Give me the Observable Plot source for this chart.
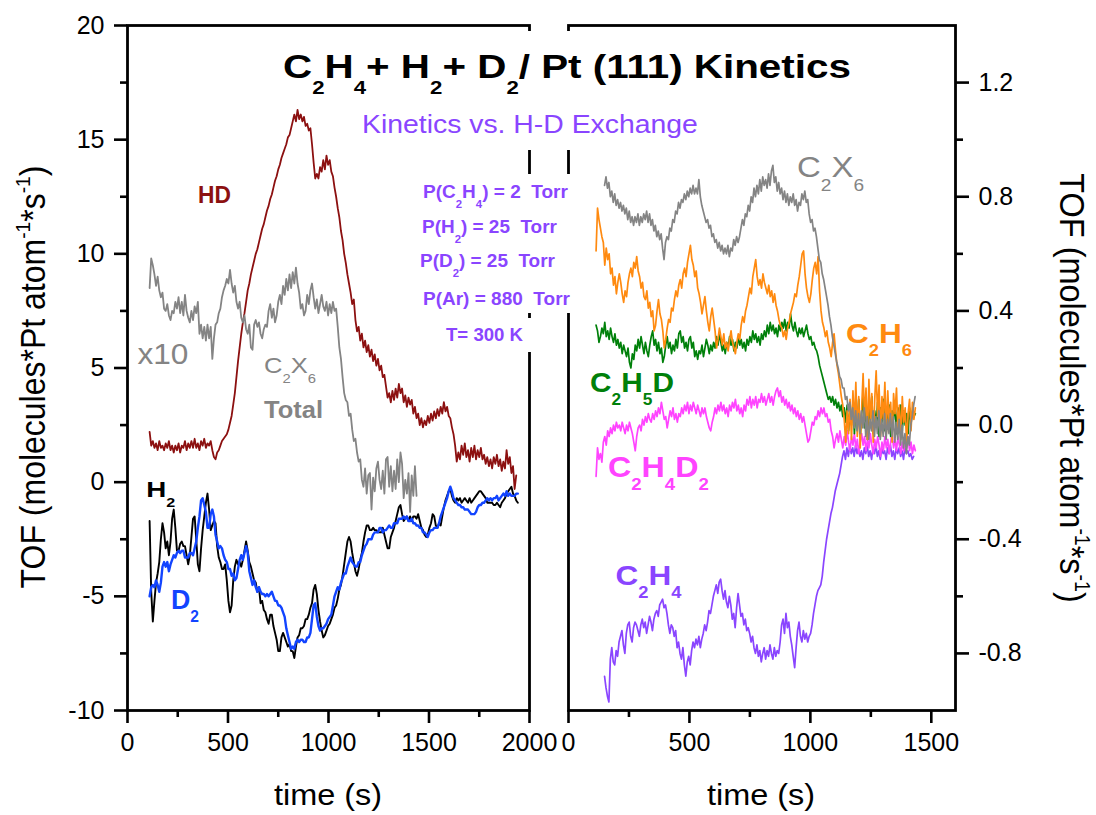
<!DOCTYPE html>
<html>
<head>
<meta charset="utf-8">
<script src="https://cdn.jsdelivr.net/npm/d3@7"></script>
<script src="https://cdn.jsdelivr.net/npm/@observablehq/plot@0.6"></script>
<style>
  body { margin: 0; background: #fff; }
  #chart { position: relative; width: 1096px; height: 815px; overflow: hidden; background: #fff; }
  #chart svg { position: absolute; left: 0; top: 0; }
</style>
</head>
<body>
<div id="chart"></div>
<script>
const W = 1096, H = 815;
const FONT = "'Liberation Sans', Arial, Helvetica, sans-serif";

// Sampling of the recorded traces (s)
const leftStep = 8;
const rightStep = 6;

// ---- Left panel: HD, C2X6 total (x10), H2, D2 ----
const hdStart = 110;
const hdTof = [
  2.2,1.6,1.8,1.5,1.7,1.4,1.8,1.5,1.6,1.4, 1.7,1.5,1.8,1.4,1.6,1.3,1.6,1.4,1.7,1.3,
  1.6,1.5,1.8,1.4,1.7,1.5,1.8,1.5,1.9,1.5, 1.7,1.4,1.8,1.6,1.9,1.5,1.7,1.6,1.8,1.4,
  1.1,1.0,1.3,1.4,1.6,1.8,1.9,2.0,2.1,2.3, 2.6,2.9,3.4,3.9,4.6,5.3,5.9,6.5,7.0,7.4,
  7.9,8.4,8.7,9.1,9.4,9.7,10.0,10.2,10.5,10.8, 11.1,11.3,11.6,11.9,12.1,12.4,12.6,12.9,13.2,13.4,
  13.7,13.9,14.2,14.4,14.6,14.8,15.1,15.2,15.5,15.8, 16.1,15.8,16.3,15.9,16.1,15.8,16.0,15.6,15.7,15.4,
  15.5,14.8,14.0,13.3,13.5,13.3,13.8,13.6,14.1,13.7, 14.3,13.9,14.1,13.6,13.4,12.9,12.5,12.0,11.6,11.0,
  10.6,10.0,9.6,9.1,8.7,8.3,7.8,8.0,7.1,6.6, 6.8,6.2,6.5,5.9,6.2,5.7,6.0,5.5,5.8,5.3,
  5.6,5.1,5.4,4.9,5.1,4.6,4.7,4.2,3.7,3.9, 3.5,4.0,3.6,4.1,3.7,4.3,3.9,4.1,3.5,3.8,
  3.3,3.7,3.4,3.6,3.0,3.3,2.8,3.0,2.5,2.8, 2.4,2.7,2.5,2.9,2.6,3.0,2.7,3.1,2.8,3.2,
  2.9,3.3,3.0,3.5,3.1,3.3,2.9,2.8,2.4,2.1, 1.6,0.9,1.3,1.0,1.6,1.2,1.7,1.1,1.4,0.9,
  1.5,1.1,1.6,1.0,1.4,1.1,1.5,1.0,1.2,0.8, 1.1,0.7,1.0,0.6,1.1,0.8,1.2,0.7,1.0,0.5,
  0.9,0.6,1.4,0.8,1.1,0.4,0.7,-0.3,0.3
];

const c2x6TotalStart = 110;
const c2x6TotalTof = [
  8.5,9.8,9.5,9.1,8.6,9.0,8.4,8.1,8.3,7.6, 7.5,7.8,7.3,7.1,7.5,7.4,7.9,7.6,8.1,7.4,
  7.9,7.3,8.2,7.5,7.2,7.0,7.5,7.1,7.7,7.4, 7.9,6.5,6.9,6.3,6.8,6.2,6.9,6.3,6.8,5.4,
  6.3,6.9,7.0,7.4,7.6,8.1,8.4,8.6,8.9,8.7, 9.3,8.7,8.3,8.6,7.9,7.6,7.9,7.2,7.0,7.3,
  6.7,6.5,6.9,5.9,5.8,6.9,7.1,6.8,7.0,6.5, 6.3,6.7,6.9,6.8,7.5,7.8,7.2,7.6,7.0,7.3,
  7.9,8.2,7.8,8.6,8.2,8.9,8.4,9.1,8.5,9.2, 8.7,9.4,8.7,8.3,7.6,7.8,7.3,7.5,8.2,7.8,
  8.4,8.7,8.1,7.6,8.0,7.4,7.8,8.2,7.7,7.5, 7.9,7.3,7.8,7.4,7.9,7.5,7.6,6.8,5.9,5.4,
  4.6,3.9,3.6,3.5,2.9,3.0,2.3,1.8,1.9,1.3, 0.9,1.0,0.1,-0.2,0.6,-0.5,0.3,0.4,-1.2,0.2,
  -0.4,0.6,0.9,0.1,-0.3,0.5,-0.5,1.0,1.1,-0.2, 0.7,-0.4,0.5,-0.3,1.0,0.0,1.3,0.8,-0.7,0.1,
  -0.5,0.4,-1.3,0.3,-0.6,0.7,-0.6
];

const h2Start = 110;
const h2Tof = [
  -1.7,-4.8,-6.1,-5.2,-4.4,-4.0,-3.5,-2.5,-1.8,-2.2, -2.9,-2.6,-3.2,-2.6,-1.6,-1.2,-2.0,-3.0,-3.0,-2.7,
  -2.6,-2.8,-2.8,-3.2,-3.6,-3.2,-2.4,-1.6,-1.5,-2.5, -3.6,-3.9,-2.9,-2.1,-1.5,-0.9,-0.5,-1.2,-2.1,-1.9,
  -1.7,-1.8,-2.8,-3.3,-3.5,-3.8,-3.8,-3.6,-4.3,-5.2, -5.7,-5.4,-4.3,-3.7,-3.4,-3.6,-3.5,-3.7,-3.4,-3.0,
  -2.6,-3.0,-3.5,-3.7,-4.0,-4.3,-4.4,-4.8,-4.6,-5.3, -5.2,-5.6,-5.7,-6.0,-6.2,-5.8,-5.8,-6.3,-6.6,-6.9,
  -7.4,-7.4,-6.8,-6.6,-6.8,-7.0,-7.2,-7.1,-7.4,-7.4, -7.7,-7.2,-6.8,-6.7,-6.4,-6.4,-6.3,-6.0,-6.0,-5.8,
  -5.5,-5.3,-4.7,-4.5,-4.9,-5.6,-6.1,-6.5,-6.8,-6.7, -6.5,-6.3,-6.2,-6.0,-5.8,-5.5,-5.4,-5.1,-4.7,-4.5,
  -4.1,-3.6,-3.1,-2.6,-2.4,-2.6,-3.1,-3.5,-3.9,-4.1, -3.8,-3.4,-3.1,-2.6,-2.2,-1.9,-1.9,-2.1,-2.1,-2.0,
  -2.1,-2.1,-2.2,-2.2,-2.2,-2.0,-2.3,-2.6,-2.9,-2.9, -2.4,-2.2,-2.0,-1.7,-1.4,-1.1,-1.0,-1.4,-1.7,-1.6,
  -1.5,-1.7,-1.5,-1.7,-1.5,-1.5,-1.6,-1.4,-1.7,-2.0, -2.1,-2.3,-2.4,-2.3,-2.0,-1.8,-1.4,-1.5,-1.9,-2.0,
  -1.8,-1.9,-1.5,-1.1,-0.8,-0.6,-0.4,-0.3,-0.6,-0.8, -0.9,-0.7,-0.8,-0.7,-0.9,-0.8,-0.7,-0.8,-0.9,-0.7,
  -0.9,-0.8,-0.7,-0.6,-0.5,-0.4,-0.4,-0.5,-0.6,-0.7, -0.9,-0.9,-0.9,-0.9,-1.0,-1.0,-0.9,-1.0,-1.1,-0.9,
  -0.8,-0.7,-0.5,-0.4,-0.3,-0.2,-0.5,-0.6,-0.8,-0.9
];

const d2Start = 110;
const d2Tof = [
  -5.0,-4.6,-4.5,-4.6,-4.3,-4.5,-4.8,-4.4,-3.7,-3.5, -3.7,-3.5,-3.9,-3.6,-3.4,-3.2,-3.3,-3.1,-3.0,-3.1,
  -3.0,-3.0,-3.3,-3.3,-3.3,-3.1,-3.1,-3.2,-2.9,-2.6, -2.0,-1.5,-0.8,-0.7,-1.0,-1.3,-2.0,-2.0,-1.4,-1.2,
  -1.5,-2.3,-2.6,-2.9,-2.8,-2.9,-3.2,-3.4,-3.5,-3.8, -3.8,-4.1,-4.0,-4.3,-4.2,-3.8,-3.4,-3.2,-3.4,-3.1,
  -2.8,-3.1,-3.9,-4.2,-4.5,-4.3,-4.6,-4.8,-4.6,-4.8, -4.9,-4.9,-5.0,-4.9,-5.0,-4.9,-4.8,-5.0,-5.2,-5.2,
  -5.4,-5.4,-5.5,-5.7,-5.9,-6.4,-6.7,-7.0,-7.3,-7.2, -7.3,-7.0,-6.9,-7.0,-6.9,-6.9,-7.0,-7.0,-6.8,-6.8,
  -6.6,-6.0,-5.4,-5.3,-5.9,-6.3,-6.5,-6.4,-6.4,-6.3, -6.2,-6.0,-5.9,-5.8,-5.4,-5.0,-4.8,-4.6,-4.7,-4.4,
  -4.2,-4.0,-4.0,-3.7,-3.5,-3.3,-3.5,-3.6,-3.7,-3.7, -3.5,-3.5,-3.2,-3.0,-2.8,-2.7,-2.5,-2.5,-2.5,-2.3,
  -2.2,-2.2,-2.2,-2.0,-2.0,-2.2,-2.1,-2.1,-2.0,-1.9, -2.0,-2.0,-1.8,-1.8,-1.8,-1.6,-1.6,-1.6,-1.5,-1.6,
  -1.5,-1.7,-1.7,-1.6,-1.8,-1.8,-1.9,-1.9,-2.0,-2.0, -2.2,-2.2,-2.3,-2.4,-2.2,-2.1,-2.1,-2.0,-2.0,-2.0,
  -1.8,-1.5,-1.3,-1.1,-0.9,-0.7,-0.4,-0.2,-0.4,-0.7, -0.8,-0.9,-1.0,-1.0,-1.1,-1.1,-1.2,-1.2,-1.2,-1.3,
  -1.4,-1.4,-1.4,-1.3,-1.1,-1.0,-1.0,-0.9,-0.9,-0.8, -0.7,-0.8,-0.7,-0.8,-0.7,-0.7,-0.6,-0.8,-0.7,-0.6,
  -0.5,-0.6,-0.4,-0.6,-0.5,-0.6,-0.6,-0.6,-0.5,-0.5
];

// ---- Right panel: C2X6, C2H6, C2H5D, C2H4D2, C2H4 ----
const c2x6Start = 149;
const c2x6Tof = [
  0.84,0.87,0.83,0.85,0.80,0.82,0.78,0.81,0.77,0.79, 0.76,0.78,0.75,0.77,0.74,0.76,0.72,0.75,0.71,0.73,
  0.70,0.73,0.71,0.74,0.70,0.73,0.71,0.74,0.72,0.75, 0.71,0.74,0.70,0.72,0.68,0.70,0.66,0.68,0.65,0.67,
  0.62,0.58,0.64,0.66,0.65,0.69,0.68,0.72,0.71,0.75, 0.74,0.78,0.76,0.79,0.78,0.81,0.79,0.82,0.80,0.83,
  0.81,0.84,0.81,0.83,0.81,0.86,0.80,0.77,0.75,0.73, 0.71,0.72,0.69,0.70,0.66,0.67,0.64,0.65,0.62,0.64,
  0.61,0.63,0.60,0.62,0.60,0.63,0.59,0.62,0.61,0.65, 0.63,0.66,0.64,0.66,0.69,0.72,0.70,0.74,0.73,0.77,
  0.75,0.80,0.78,0.83,0.80,0.84,0.81,0.86,0.82,0.87, 0.84,0.86,0.83,0.88,0.84,0.89,0.91,0.85,0.87,0.82,
  0.85,0.81,0.83,0.79,0.82,0.78,0.81,0.77,0.80,0.78, 0.81,0.77,0.79,0.75,0.78,0.77,0.81,0.79,0.82,0.78,
  0.79,0.74,0.71,0.72,0.68,0.69,0.66,0.62,0.58,0.57, 0.53,0.51,0.48,0.45,0.42,0.38,0.35,0.31,0.28,0.25,
  0.22,0.20,0.17,0.16,0.13,0.13,0.09,0.10,0.05,0.08, 0.02,0.06,-0.01,0.05,-0.02,0.04,-0.03,0.05,-0.01,0.06,
  -0.04,0.03,-0.05,0.02,-0.02,0.05,-0.04,0.03,-0.03,0.05, -0.05,0.02,-0.04,0.04,-0.05,0.02,-0.03,0.04,-0.04,0.03,
  -0.06,0.01,-0.05,0.02,-0.07,0.00,-0.08,-0.03,-0.10,-0.04, -0.07,0.00,0.03,0.07,0.10
];

const c2h6Start = 114;
const c2h6Tof = [
  0.61,0.76,0.72,0.69,0.66,0.64,0.56,0.62,0.58,0.60, 0.53,0.55,0.49,0.52,0.46,0.50,0.53,0.50,0.46,0.43,
  0.47,0.45,0.50,0.53,0.55,0.52,0.57,0.55,0.59,0.54, 0.52,0.48,0.50,0.45,0.44,0.47,0.41,0.43,0.38,0.40,
  0.33,0.35,0.40,0.44,0.39,0.37,0.33,0.27,0.30,0.34, 0.37,0.36,0.41,0.40,0.44,0.47,0.45,0.49,0.51,0.48,
  0.53,0.55,0.52,0.57,0.60,0.63,0.58,0.56,0.52,0.54, 0.48,0.46,0.43,0.39,0.42,0.45,0.40,0.36,0.33,0.38,
  0.41,0.37,0.33,0.27,0.30,0.34,0.31,0.28,0.32,0.27, 0.29,0.26,0.30,0.33,0.29,0.27,0.25,0.29,0.32,0.30,
  0.35,0.38,0.36,0.40,0.42,0.45,0.48,0.46,0.52,0.55, 0.58,0.52,0.49,0.51,0.48,0.53,0.50,0.48,0.46,0.49,
  0.45,0.47,0.43,0.46,0.42,0.40,0.37,0.35,0.34,0.31, 0.33,0.30,0.34,0.36,0.39,0.41,0.43,0.46,0.45,0.49,
  0.52,0.56,0.60,0.61,0.53,0.48,0.45,0.43,0.46,0.51, 0.55,0.57,0.53,0.59,0.47,0.40,0.36,0.34,0.31,0.33,
  0.29,0.27,0.24,0.29,0.32,0.26,0.21,0.18,0.14,0.10, 0.07,0.02,-0.06,0.05,-0.03,0.09,-0.05,0.12,0.00,0.15,
  -0.04,0.10,-0.08,0.06,0.18,0.02,0.13,-0.05,0.16,0.01, 0.11,-0.06,0.09,0.19,0.03,0.14,-0.04,0.10,0.02,0.15,
  -0.03,0.12,0.00,0.08,-0.06,0.11,0.04,0.13,-0.02,0.07, -0.05,0.10,0.01,0.06,-0.07,0.04,0.09,-0.02,0.08,0.02,
  0.06
];

const c2h5dStart = 114;
const c2h5dTof = [
  0.35,0.33,0.29,0.31,0.34,0.32,0.36,0.31,0.33,0.30, 0.34,0.31,0.29,0.32,0.28,0.30,0.27,0.29,0.25,0.28,
  0.26,0.24,0.27,0.22,0.20,0.25,0.23,0.28,0.26,0.30, 0.27,0.31,0.28,0.25,0.29,0.26,0.24,0.28,0.31,0.33,
  0.28,0.30,0.26,0.29,0.25,0.27,0.22,0.24,0.28,0.31, 0.27,0.29,0.25,0.28,0.26,0.30,0.27,0.32,0.33,0.29,
  0.31,0.27,0.29,0.26,0.30,0.31,0.27,0.29,0.24,0.26, 0.23,0.26,0.25,0.28,0.24,0.27,0.30,0.28,0.25,0.28,
  0.26,0.29,0.27,0.31,0.28,0.32,0.29,0.26,0.28,0.25, 0.29,0.27,0.31,0.28,0.30,0.26,0.29,0.27,0.31,0.28,
  0.30,0.27,0.29,0.26,0.30,0.28,0.31,0.29,0.33,0.30, 0.32,0.29,0.31,0.28,0.32,0.30,0.33,0.31,0.35,0.32,
  0.36,0.33,0.35,0.32,0.34,0.31,0.35,0.33,0.36,0.34, 0.37,0.33,0.36,0.34,0.39,0.35,0.33,0.36,0.33,0.31,
  0.34,0.32,0.34,0.31,0.33,0.35,0.32,0.30,0.31,0.28, 0.29,0.27,0.26,0.24,0.21,0.19,0.17,0.15,0.13,0.11,
  0.09,0.10,0.08,0.10,0.07,0.09,0.06,0.08,0.05,0.07, 0.03,0.06,0.01,0.07,-0.02,0.05,0.00,0.08,-0.03,0.06,
  0.01,0.09,-0.04,0.04,0.10,-0.01,0.07,-0.05,0.06,0.02, 0.10,-0.03,0.05,0.00,0.08,-0.04,0.06,0.01,0.09,-0.02,
  0.05,0.00,0.07,-0.04,0.05,0.02,0.08,-0.03,0.06,0.01, 0.07,-0.02,0.05,0.00,0.04,-0.03,0.06,0.01,0.05,0.03,
  0.04
];

const c2h4d2Start = 114;
const c2h4d2Tof = [
  -0.18,-0.08,-0.12,-0.10,-0.13,-0.06,-0.04,-0.07,-0.02,-0.04, -0.01,-0.03,0.00,-0.02,0.01,-0.01,0.00,-0.02,0.01,-0.01,
  -0.03,0.00,-0.02,0.01,-0.01,-0.03,-0.06,-0.09,-0.04,-0.01, 0.00,-0.02,0.02,0.00,0.03,0.01,0.04,0.02,0.01,0.04,
  0.02,0.05,0.03,0.06,0.04,0.08,0.05,0.02,0.03,-0.01, 0.02,0.05,0.03,0.06,0.02,0.04,0.01,0.04,0.03,0.06,
  0.04,0.07,0.05,0.08,0.04,0.07,0.05,0.08,0.06,0.04, 0.07,0.05,0.03,0.06,0.04,0.06,0.03,0.01,-0.01,-0.02,
  0.01,0.03,0.06,0.04,0.07,0.05,0.08,0.05,0.07,0.04, 0.06,0.03,0.07,0.05,0.08,0.06,0.09,0.05,0.07,0.04,
  0.06,0.03,0.07,0.05,0.09,0.07,0.10,0.06,0.09,0.07, 0.10,0.06,0.09,0.08,0.11,0.08,0.10,0.07,0.09,0.11,
  0.08,0.10,0.07,0.10,0.12,0.13,0.10,0.12,0.08,0.10, 0.07,0.09,0.06,0.08,0.05,0.07,0.04,0.06,0.03,0.05,
  0.02,0.04,0.01,0.03,0.00,-0.03,-0.06,-0.05,-0.02,0.01, 0.00,0.03,0.02,0.05,0.03,0.06,0.04,0.06,0.03,0.04,
  0.01,0.02,-0.02,-0.04,-0.08,-0.05,-0.03,-0.06,-0.02,-0.05, -0.08,-0.04,-0.07,-0.02,-0.06,-0.09,-0.04,-0.07,-0.03,-0.08,
  -0.05,-0.10,-0.06,-0.03,-0.07,-0.04,-0.09,-0.05,-0.08,-0.03, -0.07,-0.10,-0.05,-0.08,-0.04,-0.07,-0.11,-0.06,-0.09,-0.04,
  -0.08,-0.05,-0.10,-0.06,-0.03,-0.08,-0.05,-0.09,-0.04,-0.07, -0.10,-0.06,-0.09,-0.05,-0.08,-0.04,-0.09,-0.06,-0.10,-0.07,
  -0.09
];

const c2h4Start = 149;
const c2h4Tof = [
  -0.88,-0.92,-0.95,-0.97,-0.82,-0.78,-0.83,-0.84,-0.79,-0.81, -0.76,-0.74,-0.72,-0.77,-0.80,-0.73,-0.70,-0.69,-0.74,-0.76,
  -0.71,-0.69,-0.70,-0.72,-0.74,-0.70,-0.68,-0.71,-0.69,-0.73, -0.70,-0.67,-0.69,-0.72,-0.68,-0.66,-0.65,-0.67,-0.63,-0.62,
  -0.61,-0.64,-0.63,-0.66,-0.70,-0.73,-0.70,-0.71,-0.74,-0.72, -0.78,-0.76,-0.80,-0.82,-0.78,-0.84,-0.88,-0.83,-0.81,-0.84,
  -0.79,-0.76,-0.78,-0.75,-0.77,-0.74,-0.78,-0.75,-0.73,-0.70, -0.72,-0.69,-0.65,-0.66,-0.63,-0.60,-0.58,-0.56,-0.59,-0.55,
  -0.54,-0.58,-0.61,-0.58,-0.62,-0.64,-0.60,-0.63,-0.68,-0.66, -0.71,-0.64,-0.59,-0.63,-0.67,-0.66,-0.70,-0.68,-0.72,-0.71,
  -0.73,-0.76,-0.74,-0.78,-0.80,-0.77,-0.81,-0.79,-0.83,-0.80, -0.78,-0.82,-0.79,-0.81,-0.77,-0.80,-0.82,-0.78,-0.81,-0.79,
  -0.80,-0.76,-0.70,-0.68,-0.73,-0.66,-0.71,-0.69,-0.74,-0.77, -0.81,-0.85,-0.78,-0.72,-0.69,-0.74,-0.76,-0.72,-0.75,-0.73,
  -0.76,-0.74,-0.73,-0.70,-0.66,-0.63,-0.60,-0.58,-0.57,-0.56, -0.53,-0.48,-0.44,-0.40,-0.37,-0.34,-0.31,-0.29,-0.26,-0.23,
  -0.21,-0.19,-0.17,-0.14,-0.11,-0.09,-0.12,-0.08,-0.11,-0.07, -0.10,-0.08,-0.11,-0.07,-0.10,-0.08,-0.11,-0.09,-0.12,-0.08,
  -0.10,-0.07,-0.11,-0.09,-0.12,-0.08,-0.10,-0.07,-0.11,-0.09, -0.12,-0.08,-0.10,-0.09,-0.12,-0.08,-0.10,-0.07,-0.11,-0.09,
  -0.12,-0.08,-0.10,-0.08,-0.11,-0.09,-0.12,-0.08,-0.10,-0.09, -0.11,-0.10,-0.12,-0.11
];

// ---- Axis ticks ----
const leftXTicks = [0, 500, 1000, 1500, 2000];
const leftXMinor = [250, 750, 1250, 1750];
const leftYTicks = [-10, -5, 0, 5, 10, 15, 20];
const leftYMinor = [-7.5, -2.5, 2.5, 7.5, 12.5, 17.5];
const rightXTicks = [0, 500, 1000, 1500];
const rightXMinor = [250, 750, 1250];
const rightYTicks = [-0.8, -0.4, 0, 0.4, 0.8, 1.2];
const rightYMinor = [-0.6, -0.2, 0.2, 0.6, 1.0];

// ---- Colours ----
const colHD = "#8c1010", colGray = "#848484", colH2 = "#000000", colD2 = "#1244ff";
const colC2H6 = "#ff8a10", colC2H5D = "#00800a", colC2H4D2 = "#ff44ff", colC2H4 = "#8a45ff";

const series = (start, step, values) => values.map((v, i) => ({t: start + i * step, v}));

function panel({xDomain, yDomain, left, right, xTicks, xMinor, yTicks, yMinor, yAnchor, yFormat, lines}) {
  return Plot.plot({
    width: W, height: H,
    marginLeft: left, marginRight: W - right, marginTop: 25, marginBottom: H - 710,
    style: {background: "transparent", fontFamily: FONT, color: "#000", overflow: "visible"},
    x: {domain: xDomain},
    y: {domain: yDomain},
    marks: [
      ...lines,
      Plot.frame({stroke: "#000", strokeWidth: 2.8}),
      Plot.axisX({ticks: xTicks, anchor: "bottom", tickSize: 13, tickPadding: 10, tickFormat: d => String(d), fontSize: 25, strokeWidth: 2.6, label: null}),
      Plot.axisX({ticks: xMinor, anchor: "bottom", tickSize: 7, fill: null, strokeWidth: 2.6, label: null}),
      Plot.axisY({ticks: yTicks, anchor: yAnchor, tickSize: 13, tickPadding: 10, tickFormat: yFormat, fontSize: 25, strokeWidth: 2.6, label: null}),
      Plot.axisY({ticks: yMinor, anchor: yAnchor, tickSize: 7, fill: null, strokeWidth: 2.6, label: null})
    ]
  });
}

const lineOpts = (stroke, w) => ({x: "t", y: "v", stroke, strokeWidth: w, strokeLinejoin: "round"});

const leftPlot = panel({
  xDomain: [0, 2000], yDomain: [-10, 20], left: 127, right: 529,
  xTicks: leftXTicks, xMinor: leftXMinor, yTicks: leftYTicks, yMinor: leftYMinor,
  yAnchor: "left", yFormat: d => String(d),
  lines: [
    Plot.line(series(hdStart, leftStep, hdTof), lineOpts(colHD, 1.8)),
    Plot.line(series(c2x6TotalStart, leftStep, c2x6TotalTof), lineOpts(colGray, 1.8)),
    Plot.line(series(h2Start, leftStep, h2Tof), lineOpts(colH2, 1.9)),
    Plot.line(series(d2Start, leftStep, d2Tof), lineOpts(colD2, 2.4))
  ]
});

const rightPlot = panel({
  xDomain: [0, 1600], yDomain: [-1.0, 1.4], left: 568, right: 955,
  xTicks: rightXTicks, xMinor: rightXMinor, yTicks: rightYTicks, yMinor: rightYMinor,
  yAnchor: "right", yFormat: d => d.toFixed(1),
  lines: [
    Plot.line(series(c2h4Start, rightStep, c2h4Tof), lineOpts(colC2H4, 1.7)),
    Plot.line(series(c2h4d2Start, rightStep, c2h4d2Tof), lineOpts(colC2H4D2, 1.7)),
    Plot.line(series(c2h5dStart, rightStep, c2h5dTof), lineOpts(colC2H5D, 1.7)),
    Plot.line(series(c2h6Start, rightStep, c2h6Tof), lineOpts(colC2H6, 1.7)),
    Plot.line(series(c2x6Start, rightStep, c2x6Tof), lineOpts(colGray, 1.7))
  ]
});

const chart = document.getElementById("chart");
chart.appendChild(leftPlot);
chart.appendChild(rightPlot);

// ---- Annotation layer ----
const overlay = d3.select(chart).append("svg")
  .attr("width", W).attr("height", H)
  .style("font-family", FONT);

// white boxes behind the title block and the conditions block, breaking the panel borders
overlay.append("rect").attr("x", 522).attr("y", 31).attr("width", 53).attr("height", 119).attr("fill", "#fff");
overlay.append("rect").attr("x", 522).attr("y", 174).attr("width", 53).attr("height", 139).attr("fill", "#fff");
overlay.append("rect").attr("x", 522).attr("y", 318).attr("width", 12).attr("height", 34).attr("fill", "#fff");

// "_x" / "_{..}" = subscript, "^x" / "^{..}" = superscript
function parseRich(s) {
  const segs = [];
  let i = 0, buf = "";
  while (i < s.length) {
    const c = s[i];
    if (c === "_" || c === "^") {
      if (buf) { segs.push([buf, 0]); buf = ""; }
      const kind = c === "_" ? 1 : -1;
      let txt;
      if (s[i + 1] === "{") { const j = s.indexOf("}", i); txt = s.slice(i + 2, j); i = j + 1; }
      else { txt = s[i + 1]; i += 2; }
      segs.push([txt, kind]);
    } else { buf += c; i++; }
  }
  if (buf) segs.push([buf, 0]);
  return segs;
}

function richText(str, o) {
  const size = o.size, subScale = o.subScale ?? 0.58, subShift = o.subShift ?? 0.46, supShift = o.supShift ?? 0.45;
  const g = overlay.append("g");
  const t = g.append("text")
    .attr("font-size", size)
    .attr("font-weight", o.weight || "normal")
    .attr("fill", o.fill || "#000")
    .attr("text-anchor", o.anchor || "start")
    .style("white-space", "pre");
  let shift = 0;
  for (const [txt, kind] of parseRich(str)) {
    const target = kind === 1 ? subShift * size : kind === -1 ? -supShift * size : 0;
    t.append("tspan").attr("font-size", kind ? size * subScale : size).attr("dy", target - shift).text(txt);
    shift = target;
  }
  let sx = o.stretch ?? 1;
  if (o.width) {
    const w = t.node().getComputedTextLength();
    if (w > 0) sx = Math.max(0.9, Math.min(1.3, o.width / w));
  }
  g.attr("transform", `translate(${o.x},${o.y}) scale(${sx},1)` + (o.rotate ? ` rotate(${o.rotate})` : ""));
}

const purple = colC2H4;

// Title block
richText("C_2H_4+ H_2+ D_2/ Pt (111) Kinetics", {x: 283, y: 78, size: 33, weight: "bold", width: 568, subShift: 0.5, subScale: 0.55});
richText("Kinetics vs. H-D Exchange", {x: 362, y: 133, size: 26, fill: purple, width: 336});

// Conditions
const conditions = [
  ["P(C_2H_4) = 2  Torr", 423, 198, 145],
  ["P(H_2) = 25  Torr", 422, 233, 135],
  ["P(D_2) = 25  Torr", 420, 267, 135],
  ["P(Ar) = 880  Torr", 423, 305, 147],
  ["T= 300 K", 446, 341, 77]
];
for (const [txt, x, y, w] of conditions) {
  richText(txt, {x, y, size: 18.6, weight: "bold", fill: purple, width: w, subScale: 0.6, subShift: 0.52});
}

// Series labels anchored in data coordinates
const lx = leftPlot.scale("x"), ly = leftPlot.scale("y");
const rx = rightPlot.scale("x"), ry = rightPlot.scale("y");
const leftLabels = [
  {text: "HD", t: 353, v: 12.19, size: 23, weight: "bold", fill: colHD, width: 33},
  {text: "x10", t: 52, v: 5.15, size: 29, fill: colGray, width: 51},
  {text: "C_2X_6", t: 682, v: 4.75, size: 22, fill: colGray, width: 52},
  {text: "Total", t: 682, v: 2.79, size: 23, weight: "bold", fill: colGray, width: 59},
  {text: "H_2", t: 96, v: -0.66, size: 23, weight: "bold", fill: colH2, width: 29},
  {text: "D_2", t: 219, v: -5.59, size: 27, weight: "bold", fill: colD2, width: 28}
];
const rightLabels = [
  {text: "C_2X_6", t: 947, v: 0.868, size: 30, fill: colGray, width: 67},
  {text: "C_2H_6", t: 1149, v: 0.285, size: 28, weight: "bold", fill: colC2H6, width: 66},
  {text: "C_2H_5D", t: 91, v: 0.115, size: 28, weight: "bold", fill: colC2H5D, width: 84},
  {text: "C_2H_4D_2", t: 165, v: -0.1825, size: 30, weight: "bold", fill: colC2H4D2, width: 101},
  {text: "C_2H_4", t: 196, v: -0.562, size: 28, weight: "bold", fill: colC2H4, width: 66}
];
for (const l of leftLabels) richText(l.text, {...l, x: lx.apply(l.t), y: ly.apply(l.v)});
for (const l of rightLabels) richText(l.text, {...l, x: rx.apply(l.t), y: ry.apply(l.v)});

// Axis titles
const yTitle = "TOF (molecules*Pt atom^{-1}*s^{-1})";
richText(yTitle, {x: 45, y: 377, size: 32, anchor: "middle", rotate: -90, stretch: 1.1, subScale: 0.6, supShift: 0.42});
richText(yTitle, {x: 1060, y: 388, size: 32.5, anchor: "middle", rotate: 90, stretch: 1.1, subScale: 0.6, supShift: 0.42});
richText("time (s)", {x: 328, y: 805, size: 29, anchor: "middle", stretch: 1.12});
richText("time (s)", {x: 761, y: 805, size: 29, anchor: "middle", stretch: 1.12});
</script>
</body>
</html>
